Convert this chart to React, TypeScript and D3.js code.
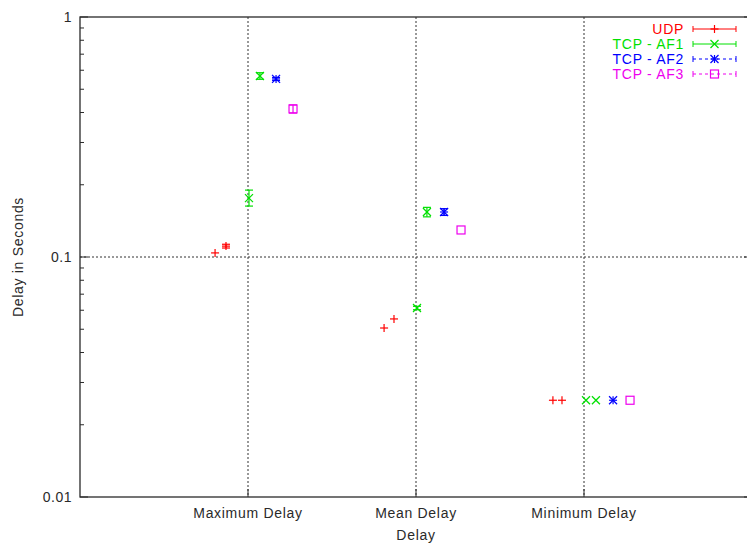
import React from "react";
import * as d3 from "d3";

// Category positions on the x axis
const categories = ["Maximum Delay", "Mean Delay", "Minimum Delay"];
const categoryX = [1, 2, 3];

// UDP measurements (x position, delay, error low, error high)
const udpX = [0.804, 0.869, 1.81, 1.869, 2.815, 2.869];
const udpY = [0.104, 0.111, 0.0506, 0.0552, 0.0253, 0.0253];
const udpLow = [0.104, 0.109, 0.0506, 0.0552, 0.0253, 0.0253];
const udpHigh = [0.104, 0.113, 0.0506, 0.0552, 0.0253, 0.0253];

// TCP - AF1
const af1X = [1.006, 1.071, 2.006, 2.065, 3.012, 3.071];
const af1Y = [0.176, 0.568, 0.0613, 0.154, 0.0253, 0.0253];
const af1Low = [0.163, 0.55, 0.0603, 0.147, 0.0253, 0.0253];
const af1High = [0.19, 0.586, 0.0623, 0.161, 0.0253, 0.0253];

// TCP - AF2
const af2X = [1.167, 2.167, 3.173];
const af2Y = [0.552, 0.154, 0.0253];
const af2Low = [0.544, 0.149, 0.0253];
const af2High = [0.56, 0.159, 0.0253];

// TCP - AF3
const af3X = [1.268, 2.268, 3.274];
const af3Y = [0.414, 0.1296, 0.0253];
const af3Low = [0.398, 0.1296, 0.0253];
const af3High = [0.43, 0.1296, 0.0253];

const yTickLabels = ["0.01", "0.1", "1"];

type Series = {
  name: string;
  color: string;
  marker: "plus" | "cross" | "star" | "square";
  dashed: boolean;
  x: number[];
  y: number[];
  lo: number[];
  hi: number[];
};

const series: Series[] = [
  { name: "UDP", color: "#ff0000", marker: "plus", dashed: false, x: udpX, y: udpY, lo: udpLow, hi: udpHigh },
  { name: "TCP - AF1", color: "#00e000", marker: "cross", dashed: false, x: af1X, y: af1Y, lo: af1Low, hi: af1High },
  { name: "TCP - AF2", color: "#0000ff", marker: "star", dashed: true, x: af2X, y: af2Y, lo: af2Low, hi: af2High },
  { name: "TCP - AF3", color: "#ee00ee", marker: "square", dashed: true, x: af3X, y: af3Y, lo: af3Low, hi: af3High },
];

const W = 747;
const H = 548;
const left = 80;
const right = 752;
const top = 17;
const bottom = 497;

const font = "'Liberation Sans', Arial, Helvetica, sans-serif";
const ink = "#2a2a2a";

function Marker({ type, cx, cy, color }: { type: Series["marker"]; cx: number; cy: number; color: string }) {
  const s = 4;
  const common = { stroke: color, strokeWidth: 1.2, fill: "none" };
  if (type === "plus") {
    return (
      <g {...common}>
        <line x1={cx - s} x2={cx + s} y1={cy} y2={cy} />
        <line x1={cx} x2={cx} y1={cy - s} y2={cy + s} />
      </g>
    );
  }
  if (type === "cross") {
    return (
      <g {...common}>
        <line x1={cx - s} x2={cx + s} y1={cy - s} y2={cy + s} />
        <line x1={cx - s} x2={cx + s} y1={cy + s} y2={cy - s} />
      </g>
    );
  }
  if (type === "star") {
    return (
      <g {...common}>
        <line x1={cx - s} x2={cx + s} y1={cy} y2={cy} />
        <line x1={cx} x2={cx} y1={cy - s} y2={cy + s} />
        <line x1={cx - s} x2={cx + s} y1={cy - s} y2={cy + s} />
        <line x1={cx - s} x2={cx + s} y1={cy + s} y2={cy - s} />
      </g>
    );
  }
  return <rect x={cx - s} y={cy - s} width={2 * s} height={2 * s} {...common} />;
}

export default function App() {
  const x = d3.scaleLinear().domain([0, 4]).range([left, right]);
  const y = d3.scaleLog().domain([0.01, 1]).range([bottom, top]);

  const allTicks = y.ticks();
  const isMajor = (v: number) => Math.abs(Math.log10(v) - Math.round(Math.log10(v))) < 1e-9;
  const majors = allTicks.filter(isMajor);
  const minors = allTicks.filter((v) => !isMajor(v));

  const cap = 4;

  return (
    <svg
      width={W}
      height={H}
      style={{ position: "absolute", left: 0, top: 0, background: "#fff" }}
      fontFamily={font}
    >
      <rect width={W} height={H} fill="#fff" />

      {/* grid */}
      <g stroke="#333" strokeWidth={1} strokeDasharray="2,2">
        {categoryX.map((c) => (
          <line key={c} x1={x(c)} x2={x(c)} y1={top} y2={bottom} />
        ))}
        <line x1={left} x2={right} y1={y(0.1)} y2={y(0.1)} />
      </g>

      {/* y ticks, both sides */}
      <g stroke={ink} strokeWidth={1}>
        {majors.map((v) => (
          <g key={"M" + v}>
            <line x1={left} x2={left + 8} y1={y(v)} y2={y(v)} />
            <line x1={right} x2={right - 8} y1={y(v)} y2={y(v)} />
          </g>
        ))}
        {minors.map((v) => (
          <g key={"m" + v}>
            <line x1={left} x2={left + 4} y1={y(v)} y2={y(v)} />
            <line x1={right} x2={right - 4} y1={y(v)} y2={y(v)} />
          </g>
        ))}
        {categoryX.map((c) => (
          <line key={"xt" + c} x1={x(c)} x2={x(c)} y1={bottom} y2={bottom - 8} />
        ))}
      </g>

      {/* frame */}
      <rect x={left} y={top} width={right - left} height={bottom - top} fill="none" stroke={ink} strokeWidth={1.3} />

      {/* y tick labels */}
      <g fontSize={14} fill={ink} textAnchor="end" letterSpacing={0.5}>
        {majors.map((v, i) => (
          <text key={v} x={72} y={y(v) + 5}>
            {yTickLabels[i]}
          </text>
        ))}
      </g>

      {/* x tick labels */}
      <g fontSize={14} fill={ink} textAnchor="middle" letterSpacing={0.7}>
        {categories.map((c, i) => (
          <text key={c} x={x(categoryX[i])} y={518}>
            {c}
          </text>
        ))}
      </g>

      {/* axis titles */}
      <text x={x(2)} y={540} fontSize={14} fill={ink} textAnchor="middle" letterSpacing={0.7}>
        Delay
      </text>
      <text
        transform={`translate(23, ${y(0.1)}) rotate(-90)`}
        fontSize={14}
        fill={ink}
        textAnchor="middle"
        letterSpacing={0.7}
      >
        Delay in Seconds
      </text>

      {/* data points with y error bars */}
      {series.map((s) => (
        <g key={s.name}>
          {s.x.map((xv, i) => {
            const cx = x(xv);
            const cy = y(s.y[i]);
            const y1 = y(s.hi[i]);
            const y2 = y(s.lo[i]);
            const hasBar = Math.abs(y2 - y1) > 0.5;
            return (
              <g key={i}>
                {hasBar && (
                  <g stroke={s.color} strokeWidth={1.2}>
                    <line x1={cx} x2={cx} y1={y1} y2={y2} />
                    <line x1={cx - cap} x2={cx + cap} y1={y1} y2={y1} />
                    <line x1={cx - cap} x2={cx + cap} y1={y2} y2={y2} />
                  </g>
                )}
                <Marker type={s.marker} cx={cx} cy={cy} color={s.color} />
              </g>
            );
          })}
        </g>
      ))}

      {/* legend */}
      {series.map((s, i) => {
        const ly = 29 + i * 15;
        const x1 = 693;
        const x2 = 736;
        const mid = (x1 + x2) / 2;
        return (
          <g key={"lg" + s.name}>
            <text x={684} y={ly + 5} fontSize={14} fill={s.color} textAnchor="end" letterSpacing={0.7}>
              {s.name}
            </text>
            <g stroke={s.color} strokeWidth={1}>
              <line x1={x1} x2={x2} y1={ly} y2={ly} strokeDasharray={s.dashed ? "3,3" : undefined} />
              <line x1={x1} x2={x1} y1={ly - 3} y2={ly + 3} />
              <line x1={x2} x2={x2} y1={ly - 3} y2={ly + 3} />
            </g>
            <Marker type={s.marker} cx={mid} cy={ly} color={s.color} />
          </g>
        );
      })}
    </svg>
  );
}
